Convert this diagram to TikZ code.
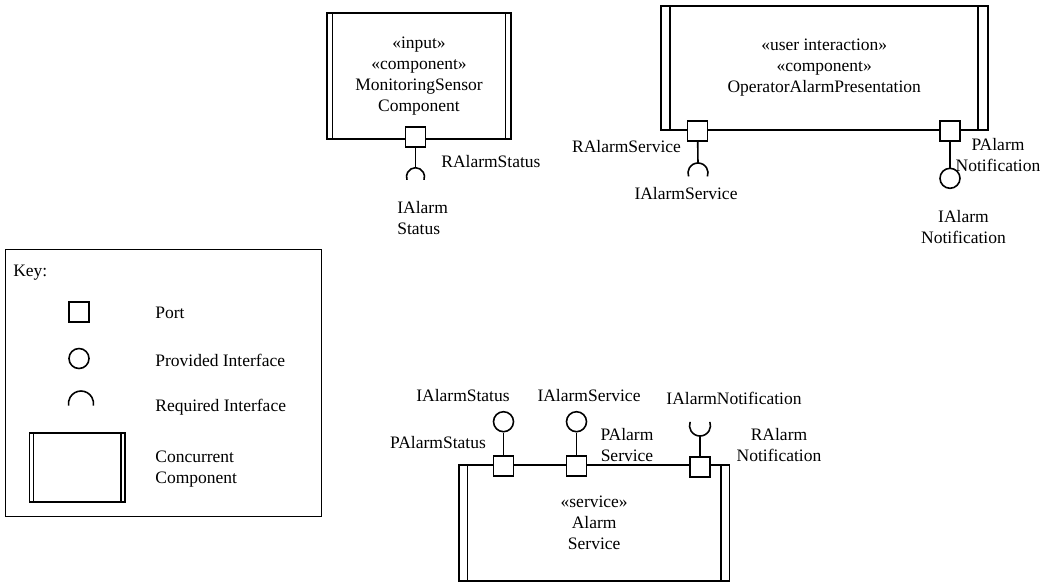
\documentclass[tikz,border=0pt]{standalone}
\usepackage{fontspec}
\setmainfont{Liberation Serif}
\usepackage{tikz}
\usetikzlibrary{positioning, calc}

\tikzset{
  every node/.style={font=\fontsize{10.5}{12.6}\selectfont},
  wire/.style={line width=0.95pt},
  component/.style={draw, line width=0.95pt, align=center, inner sep=0pt,
    path picture={
      \draw[line width=0.95pt] ([xshift=#1]path picture bounding box.north west)
        -- ([xshift=#1]path picture bounding box.south west);
      \draw[line width=0.95pt] ([xshift=-#1]path picture bounding box.north east)
        -- ([xshift=-#1]path picture bounding box.south east);
    }},
  component/.default=5pt,
  port/.style={draw, fill=white, line width=0.95pt, minimum size=12pt, inner sep=0pt},
  provided/.style={draw, circle, line width=0.95pt, minimum size=12pt, inner sep=0pt},
  lbl/.style={inner sep=0pt},
}

\begin{document}
\begin{tikzpicture}[x=0.6pt, y=-0.6pt]
  \useasboundingbox (0,0) rectangle (1043,583);

  % components
  \node[component=3.3pt, minimum width=110.4pt, minimum height=75.8pt] (msc) at (419,76)
    {«input»\\«component»\\MonitoringSensor\\Component};
  \node[component=5.7pt, minimum width=196.2pt, minimum height=74.6pt] (oap) at (824.2,67.9)
    {«user interaction»\\«component»\\OperatorAlarmPresentation};
  \node[component=5pt, minimum width=162.2pt, minimum height=69.4pt] (svc) at (594.2,522.9)
    {«service»\\Alarm\\Service};

  % ports
  \node[port] (mscR) at (415.5,137) {};
  \node[port] (oapR) at (697.7,131) {};
  \node[port] (oapP) at (950,131) {};
  \node[port] (svcPStat) at (503.5,466) {};
  \node[port] (svcPServ) at (576.5,466) {};
  \node[port] (svcRNote) at (700,467) {};

  % provided interfaces
  \node[provided] (oapNote) at (950,178.3) {};
  \node[provided] (svcStat) at (503.5,421.7) {};
  \node[provided] (svcServ) at (576.5,421.7) {};

  % required interfaces
  \coordinate (mscStat) at (415.5,167.7);
  \coordinate (oapServ) at (698,163);
  \coordinate (svcNote) at (700,436);
  \draw[wire] (mscStat) arc[start angle=90, end angle=200, radius=5.4pt];
  \draw[wire] (mscStat) arc[start angle=90, end angle=-20, radius=5.4pt];
  \draw[wire] (oapServ) arc[start angle=90, end angle=200, radius=6pt];
  \draw[wire] (oapServ) arc[start angle=90, end angle=-20, radius=6pt];
  \draw[wire] (svcNote) arc[start angle=270, end angle=160, radius=6.3pt];
  \draw[wire] (svcNote) arc[start angle=270, end angle=380, radius=6.3pt];

  % connectors
  \draw[wire] (mscR.south) -- (mscStat);
  \draw[wire] (oapR.south) -- (oapServ);
  \draw[wire] (oapP.south) -- (oapNote.north);
  \draw[wire] (svcPStat.north) -- (svcStat.south);
  \draw[wire] (svcPServ.north) -- (svcServ.south);
  \draw[wire] (svcRNote.north) -- (svcNote);

  % labels
  \node[lbl, anchor=west] (lRStat) at (441,162) {RAlarmStatus};
  \node[lbl, anchor=west, align=left] (lIStat) at (397,218.5) {IAlarm\\Status};
  \node[lbl] (lRServ) at (626.5,146.7) {RAlarmService};
  \node[lbl] (lIServ) at (686,194) {IAlarmService};
  \node[lbl, align=center] (lPNote) at (998,155) {PAlarm\\Notification};
  \node[lbl, align=center] (lINote) at (963.5,227) {IAlarm\\Notification};
  \node[lbl] (sIStat) at (463,396) {IAlarmStatus};
  \node[lbl] (sIServ) at (589,396) {IAlarmService};
  \node[lbl] (sINote) at (734,398) {IAlarmNotification};
  \node[lbl] (sPStat) at (438,442.7) {PAlarmStatus};
  \node[lbl, align=center] (sPServ) at (627,445.5) {PAlarm\\Service};
  \node[lbl, align=center] (sRNote) at (779,445.5) {RAlarm\\Notification};

  % key
  \node[draw, line width=0.6pt, minimum width=190pt, minimum height=160.6pt] (key) at (163.4,382.9) {};
  \node[lbl, anchor=west] (keyTitle) at (13,273) {Key:};
  \node[port] (keyPort) at (79,312) {};
  \node[provided] (keyProv) at (79,358.5) {};
  \coordinate (keyReq) at (81,391);
  \draw[wire] (keyReq) arc[start angle=90, end angle=190, radius=7.5pt];
  \draw[wire] (keyReq) arc[start angle=90, end angle=-10, radius=7.5pt];
  \node[component=2.4pt, minimum width=57.4pt, minimum height=41.2pt] (keyComp) at (77.2,467.4) {};
  \node[lbl, anchor=west] at (155,313) {Port};
  \node[lbl, anchor=west] at (155,360) {Provided Interface};
  \node[lbl, anchor=west] at (155,406.7) {Required Interface};
  \node[lbl, anchor=west, align=left] at (155,469) {Concurrent\\Component};
\end{tikzpicture}
\end{document}
